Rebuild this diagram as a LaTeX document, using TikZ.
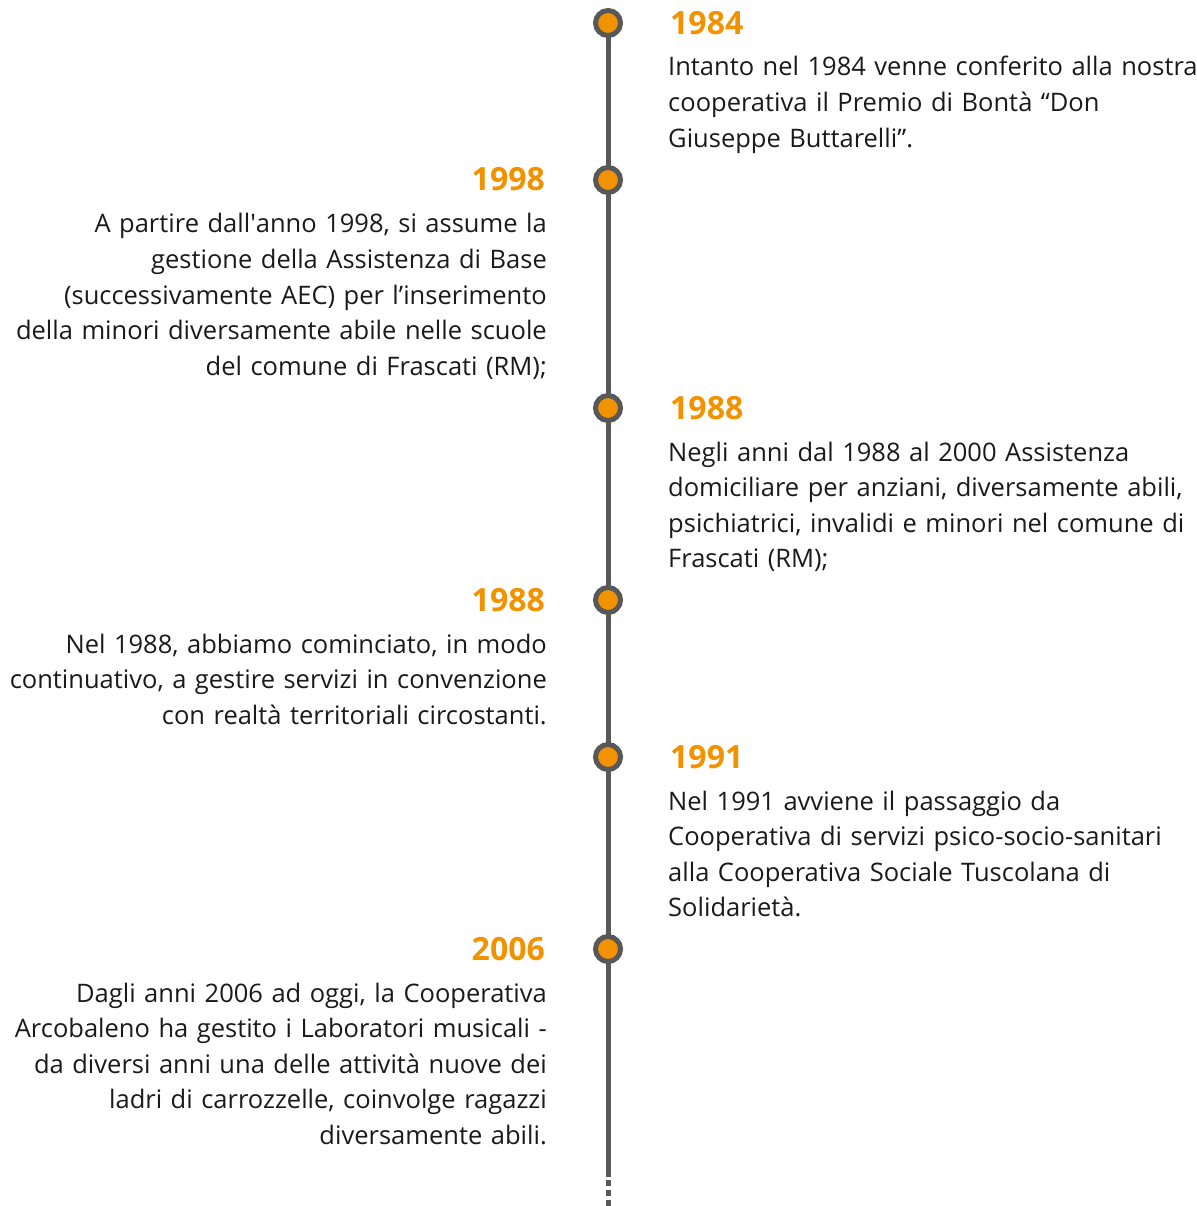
\documentclass[tikz,border=0pt]{standalone}
\usepackage{fontspec}
\setmainfont{Open Sans}
\usetikzlibrary{positioning}
\definecolor{tlorange}{HTML}{F39200}
\definecolor{tlgray}{HTML}{585858}
\definecolor{tltext}{HTML}{1A1A1A}
\begin{document}
\begin{tikzpicture}[x=1pt,y=-1pt,
  dot/.style={circle,draw=tlgray,line width=5pt,fill=tlorange,minimum size=25pt,inner sep=0pt},
  year/.style={font=\fontsize{32}{38}\selectfont\bfseries,text=tlorange,inner sep=0pt},
  rtext/.style={font=\fontsize{25.5}{35.6}\selectfont,text=tltext,inner sep=0pt,text width=620pt,align=left,anchor=base west},
  ltext/.style={font=\fontsize{25.5}{35.6}\selectfont,text=tltext,inner sep=0pt,text width=620pt,align=right,anchor=base east},
  ryear/.style={year,anchor=base west},
  lyear/.style={year,anchor=base east}]
\useasboundingbox (0,0) rectangle (1196,1206);
\coordinate (top) at (608,23);
\coordinate (solidend) at (608,1177);
\coordinate (dashstart) at (608,1180);
\coordinate (bottom) at (608,1206);
\draw[tlgray,line width=5pt] (top) -- (solidend);
\draw[tlgray,line width=5pt,dash pattern=on 6pt off 4pt] (dashstart) -- (bottom);
% events
\node[dot] (d1) at (608,23) {};
\node[dot] (d2) at (608,180) {};
\node[dot] (d3) at (608,408) {};
\node[dot] (d4) at (608,600) {};
\node[dot] (d5) at (608,757) {};
\node[dot] (d6) at (608,949) {};
\node[ryear] (y1) at (670,35) {1984};
\node[rtext] (t1) at (668,76) {Intanto nel 1984 venne conferito alla nostra\\cooperativa il Premio di Bontà “Don\\Giuseppe Buttarelli”.};
\node[lyear] (y2) at (545,191) {1998};
\node[ltext] (t2) at (547,233) {A partire dall\textquotesingle anno 1998, si assume la\\gestione della Assistenza di Base\\(successivamente AEC) per l’inserimento\\della minori diversamente abile nelle scuole\\del comune di Frascati (RM);};
\node[ryear] (y3) at (670,419) {1988};
\node[rtext] (t3) at (668,461) {Negli anni dal 1988 al 2000 Assistenza\\domiciliare per anziani, diversamente abili,\\psichiatrici, invalidi e minori nel comune di\\Frascati (RM);};
\node[lyear] (y4) at (545,611) {1988};
\node[ltext] (t4) at (547,653) {Nel 1988, abbiamo cominciato, in modo\\continuativo, a gestire servizi in convenzione\\con realtà territoriali circostanti.};
\node[ryear] (y5) at (670,768) {1991};
\node[rtext] (t5) at (668,810) {Nel 1991 avviene il passaggio da\\Cooperativa di servizi psico-socio-sanitari\\alla Cooperativa Sociale Tuscolana di\\Solidarietà.};
\node[lyear] (y6) at (545,960) {2006};
\node[ltext] (t6) at (547,1002) {Dagli anni 2006 ad oggi, la Cooperativa\\Arcobaleno ha gestito i Laboratori musicali -\\da diversi anni una delle attività nuove dei\\ladri di carrozzelle, coinvolge ragazzi\\diversamente abili.};
\end{tikzpicture}
\end{document}
